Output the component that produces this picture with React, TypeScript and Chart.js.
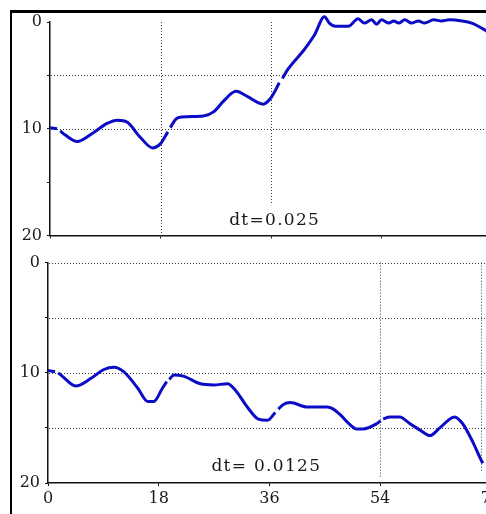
import React, { useEffect, useRef } from "react";
import { Chart, registerables } from "chart.js";

Chart.register(...registerables);

// Time axis values and depth traces for the two step sizes
const topTime = [
  0, 1.15, 1.4, 1.65, 2.5, 4.4, 7.0, 9.3, 11.0, 12.6, 14.7, 16.7, 18.0, 19.2, 19.4, 19.6,
  20.5, 21.5, 25.0, 26.7, 28.3, 30.3, 32.2, 34.7, 36.0, 37.35, 37.6, 37.85, 38.8, 41.4,
  43.1, 44.7, 45.5, 46.5, 48.6, 50.2, 51.2, 52.4, 53.2, 54.0, 55.2, 56.0, 56.8, 57.8,
  58.9, 60.0, 61.0, 62.5, 63.8, 65.0, 67.1, 68.7, 70.4, 71.2, 72.0,
];
const topDepth = [
  9.9, 10.0, null, 10.2, 10.6, 11.2, 10.4, 9.5, 9.2, 9.4, 10.8, 11.8, 11.4, 10.3, null, 9.9,
  9.1, 8.9, 8.8, 8.4, 7.4, 6.5, 7.0, 7.7, 7.1, 5.7, null, 5.3, 4.4, 2.6,
  1.2, -0.5, 0.1, 0.4, 0.4, -0.3, 0.1, -0.2, 0.2, -0.2, 0.1, -0.1, 0.1, -0.2,
  0.1, -0.1, 0.1, -0.2, -0.1, -0.2, -0.1, 0.1, 0.6, 0.9, 1.3,
];

const bottomTime = [
  0, 1.15, 1.4, 1.65, 2.3, 4.5, 7.0, 9.1, 10.7, 12.3, 14.6, 16.2, 17.2, 18.6, 19.3, 19.5,
  19.7, 20.5, 22.0, 24.8, 26.9, 29.2, 30.5, 32.4, 34.2, 35.7, 36.95, 37.2, 37.45, 38.2,
  39.4, 42.1, 45.4, 46.4, 47.5, 49.1, 50.2, 51.2, 53.5, 54.1, 54.3, 54.5, 55.6, 57.2,
  58.8, 60.5, 62.1, 63.7, 66.1, 67.4, 69.0, 70.5, 70.7,
];
const bottomDepth = [
  9.8, 9.9, null, 10.0, 10.3, 11.2, 10.5, 9.7, 9.5, 9.9, 11.4, 12.6, 12.6, 11.4, 10.8, null,
  10.6, 10.2, 10.3, 11.0, 11.1, 11.0, 11.6, 13.1, 14.2, 14.3, 13.6, null, 13.3, 12.9,
  12.7, 13.1, 13.1, 13.3, 13.8, 14.7, 15.1, 15.1, 14.6, 14.35, null, 14.2, 14.0, 14.0,
  14.6, 15.2, 15.7, 15.0, 14.0, 14.6, 16.2, 18.0, 18.2,
];

const timeRange = [0, 72];
const timeStep = 18;
const depthRange = [0, 20];
const depthStep = 5;

const topRows = [5, 10];
const topCols = [
  { at: 18, from: 0, to: 20 },
  { at: 36, from: 0, to: 17.1 },
];
const bottomRows = [0, 5, 10, 15];
const bottomCols = [
  { at: 54, from: 0, to: 19.6 },
  { at: 70.4, from: 0, to: 19 },
];

const topCaption = { text: "dt=0.025", at: [36.6, 18.6] };
const bottomCaption = { text: "dt= 0.0125", at: [35.5, 18.5] };

const FONT = "DejaVu Serif";
const LINE_BLUE = "#0c0cc6";

// Dotted reference lines and the step-size caption
const panelDecor = {
  id: "panelDecor",
  beforeDatasetsDraw(chart: any, _args: any, opts: any) {
    const { ctx, chartArea, scales } = chart;
    const xs = scales.x;
    const ys = scales.y;
    ctx.save();
    ctx.strokeStyle = "#3a3a3a";
    ctx.lineWidth = 1;
    ctx.setLineDash([1, 2]);
    for (const v of opts.rows || []) {
      const py = Math.round(ys.getPixelForValue(v)) + 0.5;
      ctx.beginPath();
      ctx.moveTo(chartArea.left + 1, py);
      ctx.lineTo(chartArea.right, py);
      ctx.stroke();
    }
    for (const c of opts.cols || []) {
      const px = Math.round(xs.getPixelForValue(c.at)) + 0.5;
      ctx.beginPath();
      ctx.moveTo(px, ys.getPixelForValue(c.from));
      ctx.lineTo(px, ys.getPixelForValue(c.to));
      ctx.stroke();
    }
    ctx.restore();
  },
  afterDraw(chart: any, _args: any, opts: any) {
    if (!opts.caption) return;
    const { ctx, scales } = chart;
    ctx.save();
    ctx.font = `17px "${FONT}"`;
    (ctx as any).letterSpacing = "1.3px";
    ctx.fillStyle = "#1a1a1a";
    ctx.textAlign = "center";
    ctx.textBaseline = "middle";
    ctx.fillText(
      opts.caption.text,
      scales.x.getPixelForValue(opts.caption.at[0]),
      scales.y.getPixelForValue(opts.caption.at[1])
    );
    ctx.restore();
  },
};

function buildConfig(
  time: number[],
  depth: (number | null)[],
  rows: number[],
  cols: { at: number; from: number; to: number }[],
  caption: { text: string; at: number[] },
  showTimeLabels: boolean,
  axisWidth: number,
  axisHeight: number,
  padTop: number
): any {
  const points = time.map((t, i) => ({ x: t, y: depth[i] }));
  const tickFont = { family: FONT, size: 16 };
  return {
    type: "line",
    data: {
      datasets: [
        {
          data: points,
          borderColor: LINE_BLUE,
          borderWidth: 3,
          pointRadius: 0,
          cubicInterpolationMode: "monotone",
          spanGaps: false,
          clip: false,
          fill: false,
        },
      ],
    },
    options: {
      responsive: false,
      animation: false,
      devicePixelRatio: 1,
      layout: { autoPadding: false, padding: { left: 0, top: padTop, right: 12, bottom: 0 } },
      plugins: {
        legend: { display: false },
        tooltip: { enabled: false },
        panelDecor: { rows, cols, caption },
      },
      scales: {
        x: {
          type: "linear",
          min: timeRange[0],
          max: timeRange[1],
          afterFit: (s: any) => {
            s.height = axisHeight;
          },
          border: { display: true, color: "#111", width: 1.5 },
          grid: { display: true, drawOnChartArea: false, drawTicks: true, tickLength: 3, color: "#111" },
          ticks: {
            display: showTimeLabels,
            stepSize: timeStep,
            autoSkip: false,
            maxRotation: 0,
            padding: 3,
            color: "#1a1a1a",
            font: tickFont,
          },
        },
        y: {
          type: "linear",
          reverse: true,
          min: depthRange[0],
          max: depthRange[1],
          afterFit: (s: any) => {
            s.width = axisWidth;
          },
          border: { display: true, color: "#111", width: 1.5 },
          grid: { display: true, drawOnChartArea: false, drawTicks: true, tickLength: 3, color: "#111" },
          ticks: {
            stepSize: depthStep,
            autoSkip: false,
            padding: 5,
            color: "#1a1a1a",
            font: tickFont,
            callback: (v: number) => (v % 10 === 0 ? String(v) : ""),
          },
        },
      },
    },
    plugins: [panelDecor],
  };
}

export default function App() {
  const topRef = useRef<HTMLCanvasElement | null>(null);
  const bottomRef = useRef<HTMLCanvasElement | null>(null);

  useEffect(() => {
    const top = new Chart(
      topRef.current as HTMLCanvasElement,
      buildConfig(topTime, topDepth, topRows, topCols, topCaption, false, 50, 10, 22)
    );
    const bottom = new Chart(
      bottomRef.current as HTMLCanvasElement,
      buildConfig(bottomTime, bottomDepth, bottomRows, bottomCols, bottomCaption, true, 48, 31, 12)
    );
    return () => {
      top.destroy();
      bottom.destroy();
    };
  }, []);

  return (
    <div
      style={{
        position: "fixed",
        left: 0,
        top: 0,
        width: 486,
        height: 514,
        overflow: "hidden",
        background: "#fff",
      }}
    >
      <div
        style={{
          position: "absolute",
          left: 10,
          top: 10,
          width: 480,
          height: 510,
          borderLeft: "2px solid #000",
          borderTop: "3px solid #000",
        }}
      />
      <canvas
        ref={topRef}
        width={504}
        height={250}
        style={{ position: "absolute", left: 0, top: 0, width: 504, height: 250 }}
      />
      <canvas
        ref={bottomRef}
        width={504}
        height={266}
        style={{ position: "absolute", left: 0, top: 248, width: 504, height: 266 }}
      />
    </div>
  );
}
